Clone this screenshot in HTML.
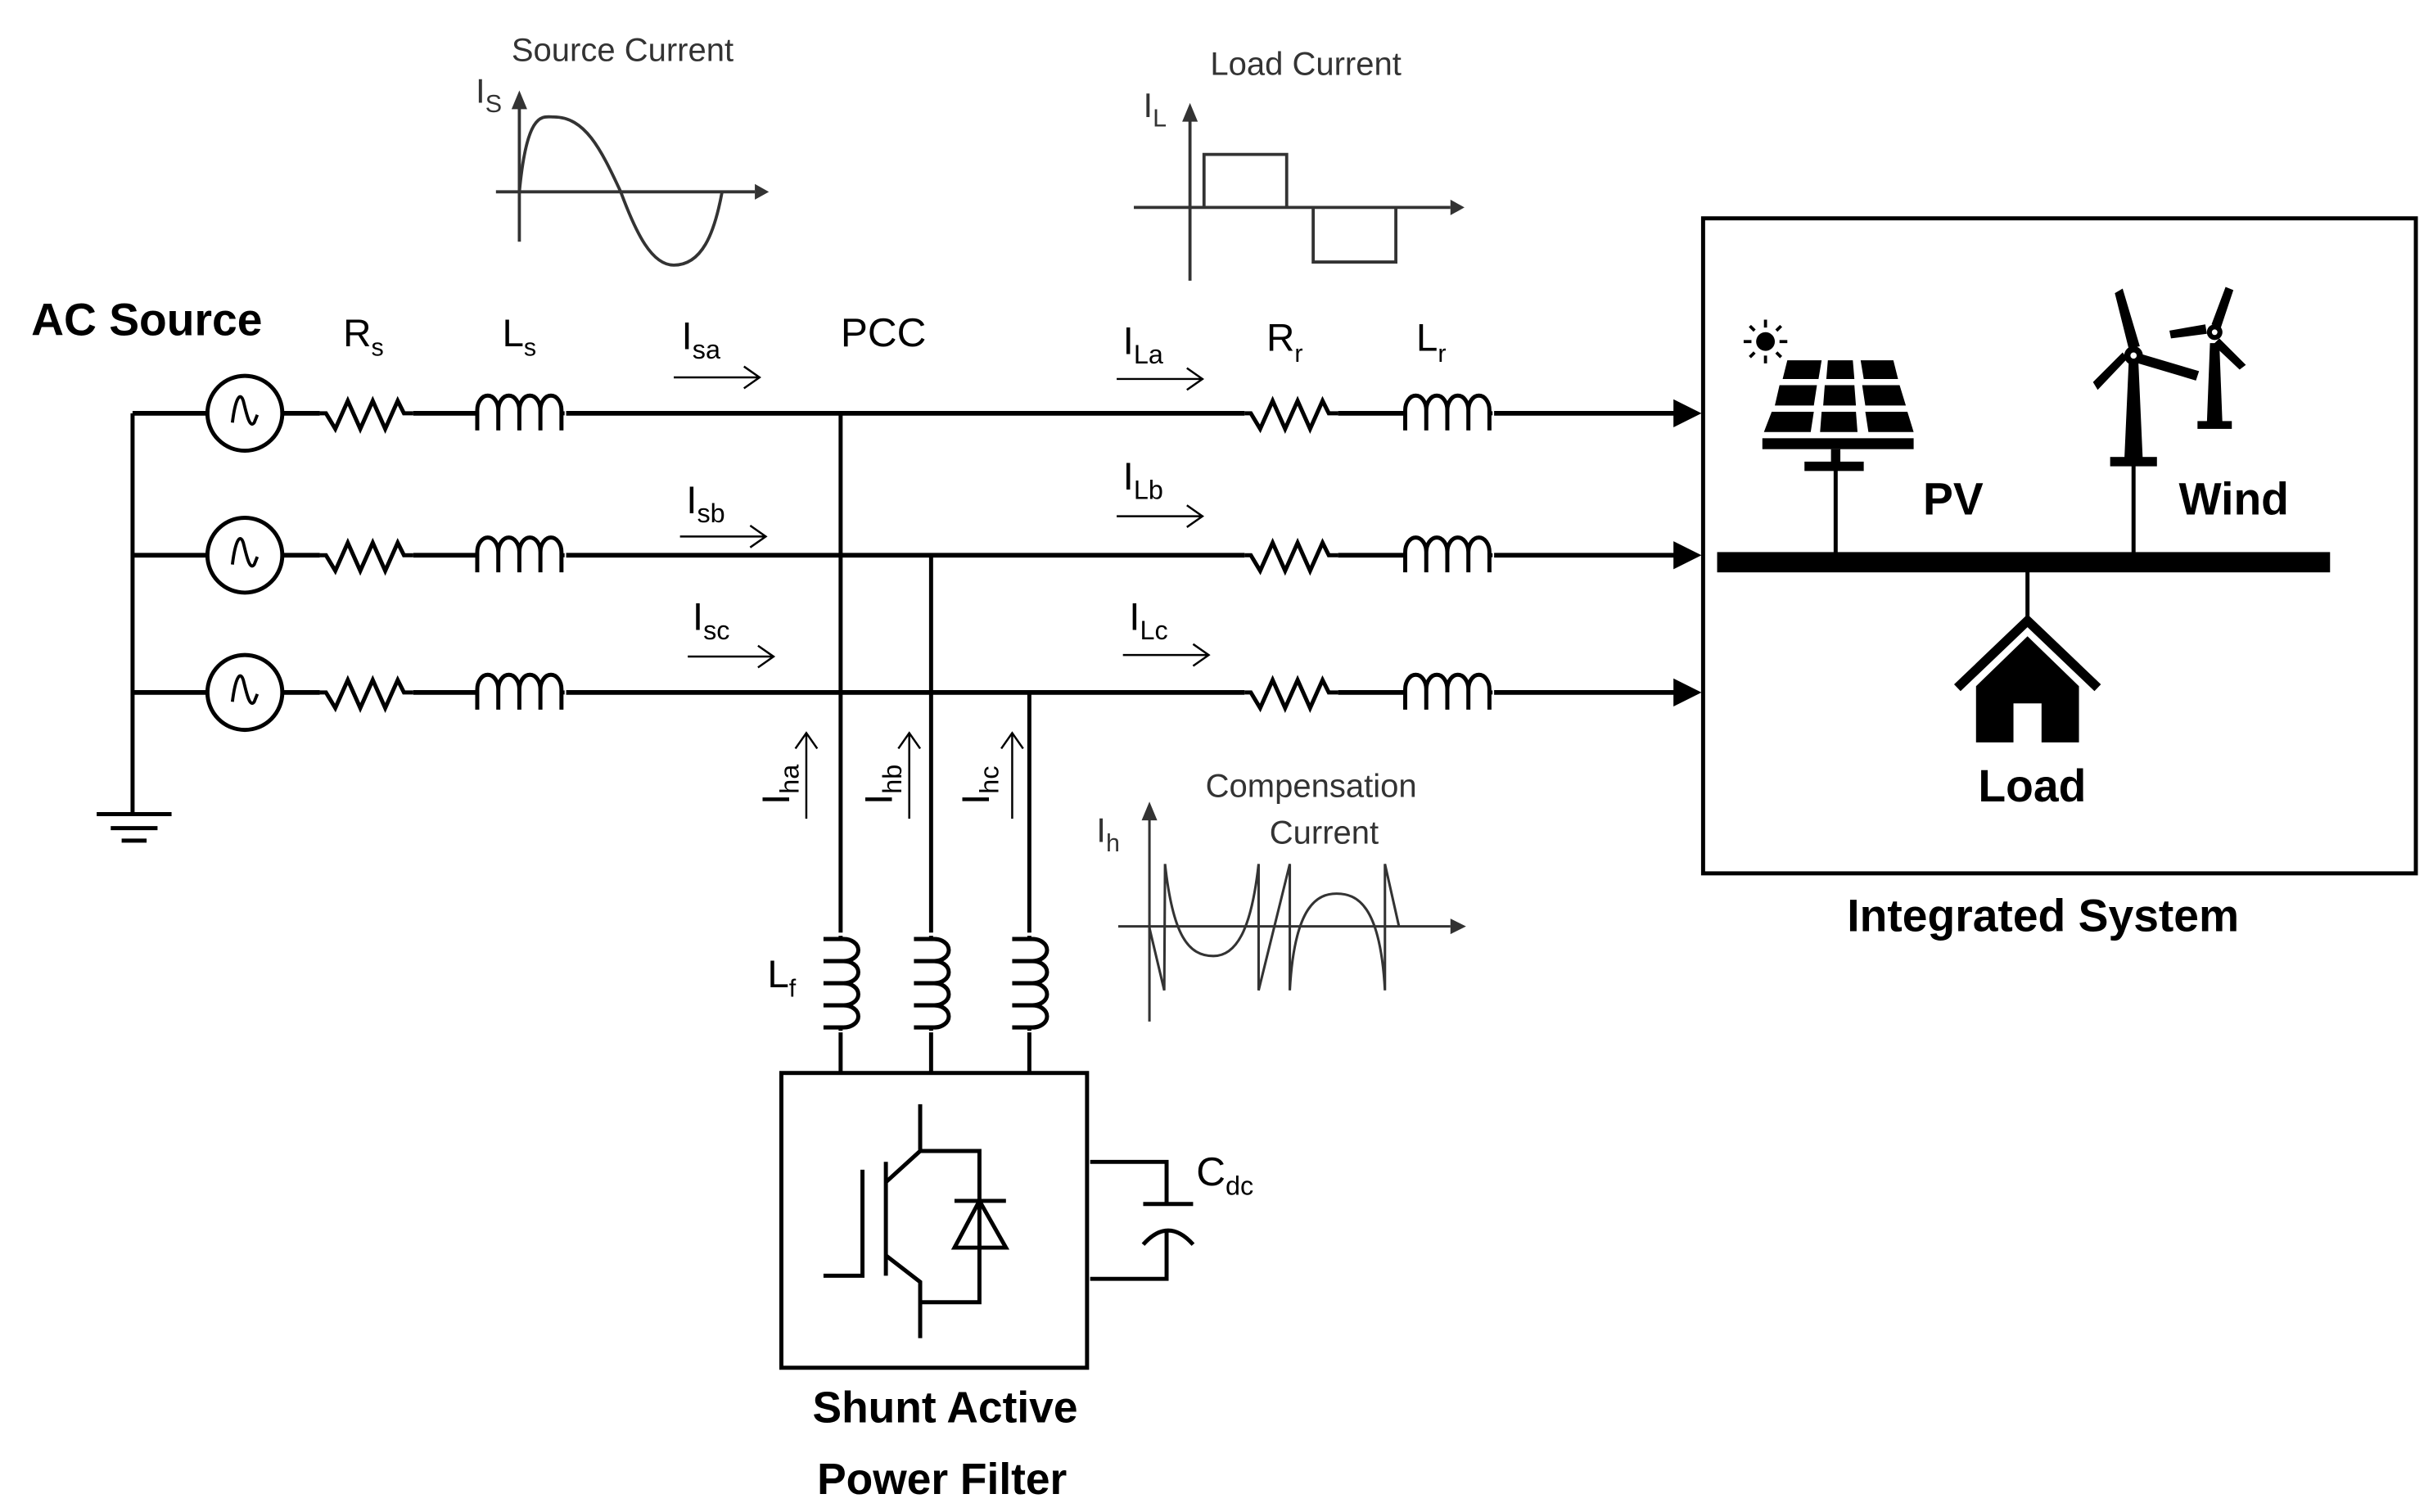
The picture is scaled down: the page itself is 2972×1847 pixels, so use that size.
<!DOCTYPE html>
<html><head><meta charset="utf-8"><style>
html,body{margin:0;padding:0;background:#fff;}
svg{display:block;}
text{font-family:"Liberation Sans",sans-serif;}
</style></head><body>
<svg width="2972" height="1847" viewBox="0 0 1560 969.5" preserveAspectRatio="none" xmlns="http://www.w3.org/2000/svg">
<defs>
<g id="res"><path d="M0,0 H4 L10,10 L18,-8 L26,10 L34,-8 L42,10 L50,-8 L54,0 H60" fill="none" stroke="#000" stroke-width="2.6" stroke-linejoin="miter"/></g>
<g id="ind"><path d="M0,0 H2 M2,11 V-2 A6.5,9 0 0 1 15.5,-2 V11 M15.5,-2 A6.5,9 0 0 1 29,-2 V11 M29,-2 A6.5,9 0 0 1 42.5,-2 V11 M42.5,-2 A6.5,9 0 0 1 56,-2 V11 M56,0 H58" fill="none" stroke="#000" stroke-width="2.6"/></g>
<g id="src"><circle cx="0" cy="0" r="24" fill="#fff" stroke="#000" stroke-width="2.6"/><path d="M-8,6 C-6,-10 -3,-14 -1,-8 C1,0 3,10 6,6 L8,1" fill="none" stroke="#000" stroke-width="2"/></g>
<g id="arr"><path d="M0,0 H55 M45,-7 L55,0 L45,7" fill="none" stroke="#000" stroke-width="1.3"/></g>
</defs>

<path d="M85,265 V522" stroke="#000" stroke-width="2.6"/>
<path d="M62,522 H110 M71,531 H101 M78,539 H94" stroke="#000" stroke-width="2.6"/>

<g stroke="#000" stroke-width="3" fill="none">
<path d="M85,265 H133 M181,265 H205 M265,265 H305 M363,265 H798 M858,265 H900 M958,265 H1075"/>
<path d="M85,356 H133 M181,356 H205 M265,356 H305 M363,356 H798 M858,356 H900 M958,356 H1075"/>
<path d="M85,444 H133 M181,444 H205 M265,444 H305 M363,444 H798 M858,444 H900 M958,444 H1075"/>
</g>
<g fill="#000">
<path d="M1073,256 L1091,265 L1073,274 Z"/>
<path d="M1073,347 L1091,356 L1073,365 Z"/>
<path d="M1073,435 L1091,444 L1073,453 Z"/>
</g>
<use href="#src" x="157" y="265"/><use href="#src" x="157" y="356"/><use href="#src" x="157" y="444"/>
<use href="#res" x="205" y="265"/><use href="#res" x="205" y="356"/><use href="#res" x="205" y="444"/>
<use href="#ind" x="304" y="265"/><use href="#ind" x="304" y="356"/><use href="#ind" x="304" y="444"/>
<use href="#res" x="798" y="265"/><use href="#res" x="798" y="356"/><use href="#res" x="798" y="444"/>
<use href="#ind" x="899" y="265"/><use href="#ind" x="899" y="356"/><use href="#ind" x="899" y="444"/>

<g stroke="#000" stroke-width="2.6" fill="none">
<path d="M539,265 V598 M539,662 V688"/>
<path d="M597,356 V598 M597,662 V688"/>
<path d="M660,444 V598 M660,662 V688"/>
</g>
<g transform="translate(539,600) rotate(90) scale(1.05,1)"><use href="#ind"/></g>
<g transform="translate(597,600) rotate(90) scale(1.05,1)"><use href="#ind"/></g>
<g transform="translate(660,600) rotate(90) scale(1.05,1)"><use href="#ind"/></g>

<use href="#arr" x="432" y="242"/><use href="#arr" x="436" y="344"/><use href="#arr" x="441" y="421"/>
<use href="#arr" x="716" y="243"/><use href="#arr" x="716" y="331"/><use href="#arr" x="720" y="420"/>
<g transform="translate(517,525) rotate(-90)"><use href="#arr"/></g>
<g transform="translate(583,525) rotate(-90)"><use href="#arr"/></g>
<g transform="translate(649,525) rotate(-90)"><use href="#arr"/></g>

<text x="20" y="215" font-size="29" font-weight="bold">AC Source</text>
<text x="220" y="222" font-size="25">R<tspan font-size="16" dy="6">s</tspan></text>
<text x="322" y="222" font-size="25">L<tspan font-size="16" dy="6">s</tspan></text>
<text x="437" y="224" font-size="25">I<tspan font-size="17" dy="6">sa</tspan></text>
<text x="539" y="222" font-size="26">PCC</text>
<text x="440" y="329" font-size="25">I<tspan font-size="17" dy="6">sb</tspan></text>
<text x="444" y="404" font-size="25">I<tspan font-size="17" dy="6">sc</tspan></text>
<text x="720" y="227" font-size="25">I<tspan font-size="17" dy="6">La</tspan></text>
<text x="720" y="314" font-size="25">I<tspan font-size="17" dy="6">Lb</tspan></text>
<text x="724" y="404" font-size="25">I<tspan font-size="17" dy="6">Lc</tspan></text>
<text x="812" y="225" font-size="25">R<tspan font-size="16" dy="7">r</tspan></text>
<text x="908" y="225" font-size="25">L<tspan font-size="16" dy="7">r</tspan></text>
<text transform="translate(506,516) rotate(-90)" font-size="25">I<tspan font-size="17" dy="6">ha</tspan></text>
<text transform="translate(572,516) rotate(-90)" font-size="25">I<tspan font-size="17" dy="6">hb</tspan></text>
<text transform="translate(634,516) rotate(-90)" font-size="25">I<tspan font-size="17" dy="6">hc</tspan></text>
<text x="492" y="633" font-size="25">L<tspan font-size="16" dy="6">f</tspan></text>
<text x="767" y="760" font-size="26">C<tspan font-size="17" dy="6">dc</tspan></text>

<rect x="501" y="688" width="196" height="189" fill="none" stroke="#000" stroke-width="2.6"/>
<g stroke="#000" stroke-width="2.6" fill="none">
<path d="M528,818 H553 V750"/>
<path d="M568,745 V818"/>
<path d="M590,708 V738 L568,758 M568,805 L590,822 V858"/>
<path d="M590,738 H628 V835 H590"/>
<path d="M612,770 H645 M612,800 H645 L628,770 Z"/>
<path d="M699,745 H748 V772 M733,772 H765 M733,798 Q749,780 765,798 M748,788 V820 H699"/>
</g>
<text x="606" y="912" font-size="28" font-weight="bold" text-anchor="middle">Shunt Active</text>
<text x="604" y="958" font-size="28" font-weight="bold" text-anchor="middle">Power Filter</text>

<text x="328" y="39" font-size="21" fill="#333">Source Current</text>
<text x="305" y="66" font-size="22" fill="#333">I<tspan font-size="16" dy="6">S</tspan></text>
<g stroke="#333" stroke-width="2" fill="none">
<path d="M318,123 H484 M333,155 V64"/>
<path d="M333,123 C338,70 348,75 355,75 C375,75 385,95 398,123 C408,150 418,170 432,170 C450,170 458,150 463,123"/>
</g>
<g fill="#333"><path d="M484,118 L493,123 L484,128 Z M328,70 L333,58 L338,70 Z"/></g>

<text x="776" y="48" font-size="21" fill="#333">Load Current</text>
<text x="733" y="75" font-size="22" fill="#333">I<tspan font-size="16" dy="6">L</tspan></text>
<g stroke="#333" stroke-width="2" fill="none">
<path d="M727,133 H930 M763,180 V72"/>
<path d="M772,133 V99 H825 V133 M842,133 V168 H895 V133"/>
</g>
<g fill="#333"><path d="M930,128 L939,133 L930,138 Z M758,78 L763,66 L768,78 Z"/></g>

<text x="773" y="511" font-size="21" fill="#333">Compensation</text>
<text x="814" y="541" font-size="21" fill="#333">Current</text>
<text x="703" y="540" font-size="22" fill="#333">I<tspan font-size="16" dy="6">h</tspan></text>
<g stroke="#333" stroke-width="1.6" fill="none">
<path d="M717,594 H930 M737,655 V522"/>
<path d="M737,595 L746.5,635 L747,554 C752,600 762,613 778,613 C795,613 803,590 807,554 L807,635 L827,554 L827,635 C830,580 845,573 857,573 C870,573 885,580 888,635 L888,554 L897,594"/>
</g>
<g fill="#333"><path d="M930,589 L940,594 L930,599 Z M732,526 L737,514 L742,526 Z"/></g>

<rect x="1092" y="140" width="457" height="420" fill="none" stroke="#000" stroke-width="2.6"/>
<rect x="1101" y="354" width="393" height="13" fill="#000"/>
<g stroke="#000" stroke-width="2.6" fill="none">
<path d="M1177,290 V355 M1368,297 V355 M1300,366 V400"/>
</g>
<circle cx="1132" cy="219" r="6" fill="#000"/>
<g stroke="#000" stroke-width="2"><path d="M1132,205 V210 M1132,228 V233 M1118,219 H1123 M1141,219 H1146 M1122,209 L1125,212 M1139,226 L1142,229 M1122,229 L1125,226 M1139,212 L1142,209"/></g>
<g fill="#000">
<path d="M1146,231 H1168 L1166,243 H1143 Z M1172,231 H1188 L1189,243 H1171 Z M1193,231 H1214 L1217,243 H1195 Z"/>
<path d="M1141,247 H1165 L1163,260 H1138 Z M1170,247 H1189 L1190,260 H1169 Z M1194,247 H1218 L1222,260 H1196 Z"/>
<path d="M1136,264 H1163 L1161,277 H1131 Z M1168,264 H1190 L1191,277 H1167 Z M1196,264 H1223 L1227,277 H1198 Z"/>
<rect x="1130" y="281" width="97" height="7"/>
<rect x="1174" y="288" width="6" height="10"/>
<rect x="1157" y="296" width="38" height="6"/>
</g>
<g fill="#000">
<path d="M1365,230 L1371,230 L1374,297 L1362,297 Z"/>
<rect x="1353" y="293" width="30" height="6"/>
<path d="M1365,224 L1356,188 L1361,185 L1372,222 Z"/>
<path d="M1373,227 L1410,238 L1408,244 L1371,233 Z"/>
<path d="M1364,230 L1345,250 L1342,245 L1361,226 Z"/>
<circle cx="1368" cy="228" r="6"/>
<path d="M1417,220 L1423,220 L1425,272 L1415,272 Z"/>
<rect x="1409" y="270" width="22" height="5"/>
<path d="M1418,208 L1427,184 L1432,186 L1424,210 Z"/>
<path d="M1423,217 L1440,234 L1436,237 L1419,221 Z"/>
<path d="M1415,214 L1392,217 L1391,212 L1414,208 Z"/>
<circle cx="1420" cy="213" r="5"/>
</g>
<circle cx="1368" cy="228" r="2" fill="#fff"/>
<circle cx="1420" cy="213" r="1.8" fill="#fff"/>
<path d="M1255,441 L1300,398 L1345,441" fill="none" stroke="#000" stroke-width="6"/>
<path d="M1267,440 L1300,408 L1333,440 V476 H1309 V451 H1291 V476 H1267 Z" fill="#000"/>
<text x="1233" y="330" font-size="29" font-weight="bold">PV</text>
<text x="1397" y="330" font-size="29" font-weight="bold">Wind</text>
<text x="1303" y="514" font-size="29" font-weight="bold" text-anchor="middle">Load</text>
<text x="1310" y="597" font-size="29" font-weight="bold" text-anchor="middle">Integrated System</text>
</svg>
</body></html>
